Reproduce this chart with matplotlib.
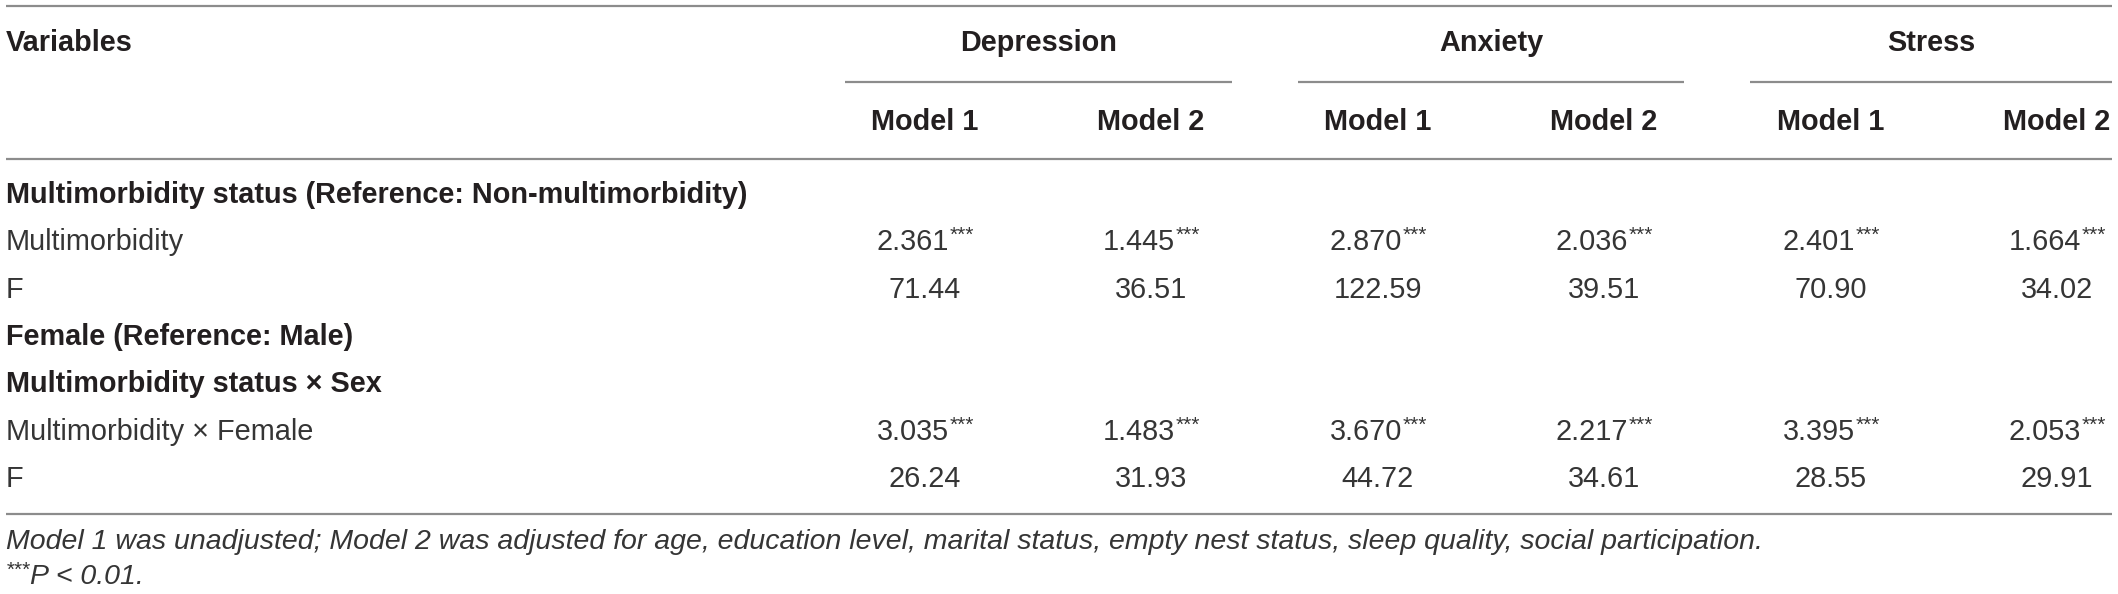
import matplotlib
matplotlib.use("Agg")
import matplotlib.pyplot as plt

# table contents
outcomes = ["Depression", "Anxiety", "Stress"]
models = ["Model 1", "Model 2"]
row_labels = ["Multimorbidity status (Reference: Non-multimorbidity)",
              "Multimorbidity", "F",
              "Female (Reference: Male)",
              "Multimorbidity status \u00d7 Sex",
              "Multimorbidity \u00d7 Female", "F"]
bold_rows = [0, 3, 4]
or_main = [2.361, 1.445, 2.870, 2.036, 2.401, 1.664]
f_main = [71.44, 36.51, 122.59, 39.51, 70.90, 34.02]
or_inter = [3.035, 1.483, 3.670, 2.217, 3.395, 2.053]
f_inter = [26.24, 31.93, 44.72, 34.61, 28.55, 29.91]
stars = "***"
note1 = ("Model 1 was unadjusted; Model 2 was adjusted for age, education level, marital status, "
         "empty nest status, sleep quality, social participation.")
note2 = "P < 0.01."

plt.rcParams['font.family'] = ['Liberation Sans', 'DejaVu Sans']

W, H = 2118, 594
fig = plt.figure(figsize=(W / 100, H / 100), dpi=100)
ax = fig.add_axes([0, 0, 1, 1])
ax.set_xlim(0, W)
ax.set_ylim(H, 0)
ax.axis('off')
renderer = fig.canvas.get_renderer()

dark = '#231f20'
body = '#353535'
rule = '#8c8c8c'
fs = 20.8
fs_note = 20.5
fs_star = 15

# layout (pixels)
x_left, x_right = 6, 2112
col_x = [925, 1151, 1378, 1604, 1831, 2057]
group_spans = [(845, 1232), (1298, 1684), (1750, 2112)]
y_head, y_sub, y_model = 43, 82, 122
row_y = [195, 242, 290, 337, 384, 432, 479]


def width(txt):
    return txt.get_window_extent(renderer).width


def starred(x, y, s, center=True, **kw):
    # number followed by raised small asterisks
    t = ax.text(x, y, s, va='center', **kw)
    st = ax.text(x, y - 7, stars, va='center', fontsize=fs_star,
                 color=kw.get('color'), style=kw.get('style', 'normal'))
    wn, ws = width(t), width(st)
    if center:
        x0 = x - (wn + ws) / 2
        t.set_x(x0)
        st.set_x(x0 + wn + 1)
    else:
        st.set_x(x)
        t.set_x(x + ws)


# horizontal rules
for y in [5.5, 159, 514]:
    ax.plot([x_left, x_right], [y, y], color=rule, lw=1.6, solid_capstyle='butt')

# header
ax.text(x_left, y_head, "Variables", fontsize=fs, fontweight='bold', color=dark, va='center')
for name, (a, b) in zip(outcomes, group_spans):
    ax.text((a + b) / 2, y_head, name, fontsize=fs, fontweight='bold', color=dark,
            ha='center', va='center')
    ax.plot([a, b], [y_sub, y_sub], color=rule, lw=1.6, solid_capstyle='butt')
for i, cx in enumerate(col_x):
    ax.text(cx, y_model, models[i % 2], fontsize=fs, fontweight='bold', color=dark,
            ha='center', va='center')

# body rows
for i, lab in enumerate(row_labels):
    bold = i in bold_rows
    ax.text(x_left, row_y[i], lab, fontsize=fs, color=dark if bold else body,
            fontweight='bold' if bold else 'normal', va='center')

value_rows = {1: (or_main, True), 2: (f_main, False), 5: (or_inter, True), 6: (f_inter, False)}
for r, (vals, is_or) in value_rows.items():
    for cx, v in zip(col_x, vals):
        if is_or:
            starred(cx, row_y[r], f"{v:.3f}", fontsize=fs, color=body)
        else:
            ax.text(cx, row_y[r], f"{v:.2f}", fontsize=fs, color=body, ha='center', va='center')

# footnotes
ax.text(x_left, 542, note1, fontsize=fs_note, style='italic', color=body, va='center')
starred(x_left, 577, note2, center=False, fontsize=fs_note, style='italic', color=body)

fig.savefig("out.png", dpi=100)
